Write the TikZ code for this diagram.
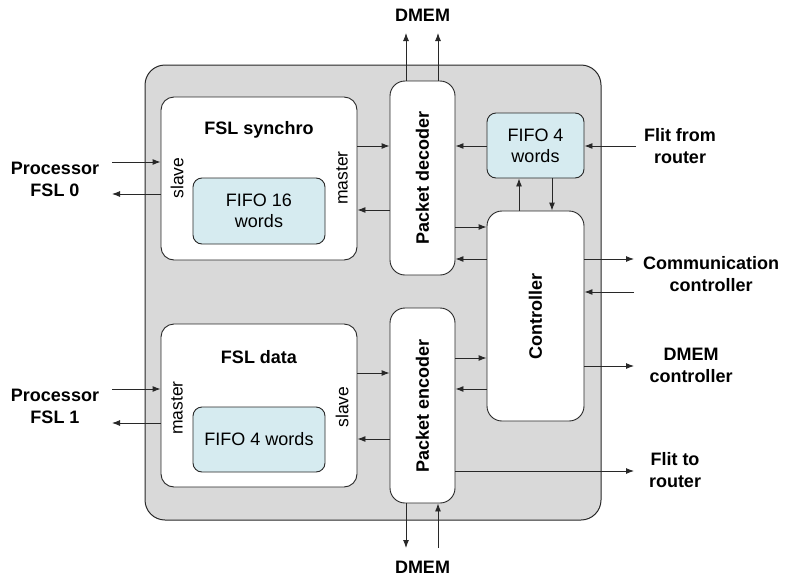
\documentclass[tikz,border=0pt]{standalone}
\usepackage{fontspec}
\setmainfont{Liberation Sans}
\usetikzlibrary{arrows.meta}
\definecolor{outerfill}{RGB}{217,217,217}
\definecolor{fifofill}{RGB}{214,235,240}
\definecolor{edge}{RGB}{40,40,40}
\tikzset{
  blk/.style={draw=edge, line width=0.9pt, fill=white, rounded corners=13pt, inner sep=0pt},
  fifo/.style={draw=edge, line width=0.9pt, fill=fifofill, rounded corners=9pt, inner sep=0pt, align=center, font=\fontsize{18}{21}\selectfont},
  arr/.style={line width=0.9pt, draw=edge, -{Latex[length=8pt,width=6pt]}},
  lbl/.style={font=\fontsize{18}{22}\selectfont\bfseries, align=center, inner sep=0pt},
  side/.style={font=\fontsize{17.5}{20}\selectfont, rotate=90, inner sep=0pt},
}
\begin{document}
\begin{tikzpicture}[x=1pt,y=-1pt]
\useasboundingbox (0,0) rectangle (787,581);
% outer
\node[draw=edge, line width=1pt, fill=outerfill, rounded corners=20pt, minimum width=456pt, minimum height=455pt, inner sep=0pt] (outer) at (373,292.5) {};
% blocks
\node[blk, minimum width=196pt, minimum height=163pt] (synchro) at (259,178.5) {};
\node[fifo, minimum width=132pt, minimum height=66pt] (fifo16) at (259,211) {FIFO 16\\words};
\node[lbl] (synchrot) at (259,130) {FSL synchro};
\node[side] (slaveA) at (177,178) {slave};
\node[side] (masterA) at (342,178) {master};

\node[blk, minimum width=196pt, minimum height=163pt] (data) at (259,405.5) {};
\node[fifo, minimum width=132pt, minimum height=65pt] (fifo4) at (259,439.5) {FIFO 4 words};
\node[lbl] (datat) at (259,357) {FSL data};
\node[side] (masterB) at (177,408) {master};
\node[side] (slaveB) at (342,407) {slave};

\node[blk, rounded corners=15pt, minimum width=65pt, minimum height=194pt] (decoder) at (422.5,178) {};
\node[lbl, rotate=90] (decodert) at (422.5,178) {Packet decoder};
\node[blk, rounded corners=15pt, minimum width=65pt, minimum height=195pt] (encoder) at (422.5,405.5) {};
\node[lbl, rotate=90] (encodert) at (422.5,405.5) {Packet encoder};

\node[fifo, minimum width=97pt, minimum height=65pt] (fifoT) at (535.5,145.5) {FIFO 4\\words};
\node[blk, rounded corners=15pt, minimum width=97pt, minimum height=210pt] (ctrl) at (535.5,316) {};
\node[lbl, rotate=90] (ctrlt) at (535.5,316) {Controller};

% outside coordinates
\coordinate (p0in) at (112,162);
\coordinate (p0out) at (112,194);
\coordinate (p1in) at (112,389);
\coordinate (p1out) at (112,423);
\coordinate (dmT1) at (406,33);
\coordinate (dmT2) at (438,33);
\coordinate (dmB1) at (406,548);
\coordinate (dmB2) at (438,548);
\coordinate (flitin) at (636,146);
\coordinate (ccout) at (634,259);
\coordinate (ccin) at (634,292);
\coordinate (dcout) at (634,366);
\coordinate (flitout) at (634,471);

% labels outside
\node[lbl] (proc0) at (55,179) {Processor\\FSL 0};
\node[lbl] (proc1) at (55,406) {Processor\\FSL 1};
\node[lbl] (dmemT) at (422.5,15) {DMEM};
\node[lbl] (dmemB) at (422.5,567) {DMEM};
\node[lbl] (flitfrom) at (680,146) {Flit from\\router};
\node[lbl] (comm) at (711,274) {Communication\\controller};
\node[lbl] (dmemc) at (691,365) {DMEM\\controller};
\node[lbl] (flitto) at (675,470.5) {Flit to\\router};

% processor arrows
\draw[arr] (p0in) -- (synchro.west |- p0in);
\draw[arr] (synchro.west |- p0out) -- (p0out);
\draw[arr] (p1in) -- (data.west |- p1in);
\draw[arr] (data.west |- p1out) -- (p1out);

% synchro <-> decoder
\draw[arr] (synchro.east |- 0,146) -- (decoder.west |- 0,146);
\draw[arr] (decoder.west |- 0,210) -- (synchro.east |- 0,210);
% data <-> encoder
\draw[arr] (data.east |- 0,373) -- (encoder.west |- 0,373);
\draw[arr] (encoder.west |- 0,439) -- (data.east |- 0,439);

% DMEM
\draw[arr] (decoder.north -| dmT1) -- (dmT1);
\draw[arr] (decoder.north -| dmT2) -- (dmT2);
\draw[arr] (encoder.south -| dmB1) -- (dmB1);
\draw[arr] (dmB2) -- (encoder.south -| dmB2);

% fifo top
\draw[arr] (flitin) -- (fifoT.east |- flitin);
\draw[arr] (fifoT.west |- 0,146) -- (decoder.east |- 0,146);
\draw[arr] (ctrl.north -| 519,0) -- (fifoT.south -| 519,0);
\draw[arr] (fifoT.south -| 552,0) -- (ctrl.north -| 552,0);

% decoder <-> controller
\draw[arr] (decoder.east |- 0,227) -- (ctrl.west |- 0,227);
\draw[arr] (ctrl.west |- 0,259) -- (decoder.east |- 0,259);
% encoder <-> controller
\draw[arr] (encoder.east |- 0,358) -- (ctrl.west |- 0,358);
\draw[arr] (ctrl.west |- 0,389) -- (encoder.east |- 0,389);

% controller outputs
\draw[arr] (ctrl.east |- ccout) -- (ccout);
\draw[arr] (ccin) -- (ctrl.east |- ccin);
\draw[arr] (ctrl.east |- dcout) -- (dcout);
\draw[arr] (encoder.east |- flitout) -- (flitout);
\end{tikzpicture}
\end{document}
